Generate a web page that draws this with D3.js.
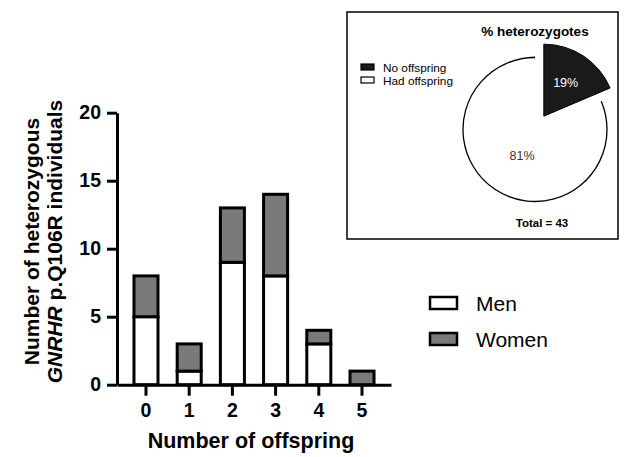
<!DOCTYPE html>
<html>
<head>
<meta charset="utf-8">
<script src="https://cdn.jsdelivr.net/npm/d3@7/dist/d3.min.js"></script>
<style>
  html, body { margin: 0; padding: 0; background: #fff; }
  svg { display: block; font-family: "Liberation Sans", Arial, sans-serif; }
</style>
</head>
<body>
<svg id="chart" width="624" height="457"></svg>
<script>
// Offspring counts of heterozygous carriers, split by sex
const offspringCats = ["0", "1", "2", "3", "4", "5"];
const menCounts = [5, 1, 9, 8, 3, 0];
const womenCounts = [3, 2, 4, 6, 1, 1];
const yTicks = [0, 5, 10, 15, 20];

// Inset pie: share of carriers with / without offspring
const pieLabels = ["No offspring", "Had offspring"];
const pieCounts = [8, 35];
const piePctLabels = ["19%", "81%"];
const pieTotal = 43;

const svg = d3.select("#chart");
const FONT = "Liberation Sans, Arial, sans-serif";

// ---------- stacked bar chart ----------
const x = d3.scaleBand().domain(offspringCats).range([117, 391])
  .paddingInner(0.444).paddingOuter(0.393);
const y = d3.scaleLinear().domain([0, 20]).range([384.7, 112.7]);

const rows = offspringCats.map((c, i) => ({ cat: c, Men: menCounts[i], Women: womenCounts[i] }));
const stack = d3.stack().keys(["Men", "Women"])(rows);
const fills = { Men: "#ffffff", Women: "#7a7a7a" };

const bars = svg.append("g");
stack.forEach(layer => {
  bars.selectAll(null).data(layer.filter(d => d[1] > d[0])).enter().append("rect")
    .attr("x", d => x(d.data.cat))
    .attr("width", x.bandwidth())
    .attr("y", d => y(d[1]))
    .attr("height", d => y(d[0]) - y(d[1]))
    .attr("fill", fills[layer.key])
    .attr("stroke", "#000")
    .attr("stroke-width", 3);
});

// y axis
const yAxis = svg.append("g").attr("transform", "translate(117,0)")
  .call(d3.axisLeft(y).tickValues(yTicks).tickSize(10).tickPadding(6).tickSizeOuter(0));
yAxis.select(".domain").attr("stroke-width", 3);
yAxis.selectAll(".tick line").attr("stroke-width", 3);
yAxis.selectAll(".tick text").attr("font-size", 19.5).attr("font-weight", "bold")
  .attr("fill", "#000").attr("font-family", FONT);

// x axis
const xAxis = svg.append("g").attr("transform", "translate(0,384.7)")
  .call(d3.axisBottom(x).tickSize(11).tickPadding(7).tickSizeOuter(0));
xAxis.select(".domain").attr("stroke-width", 3);
xAxis.selectAll(".tick line").attr("stroke-width", 3);
xAxis.selectAll(".tick text").attr("font-size", 19.5).attr("font-weight", "bold")
  .attr("fill", "#000").attr("font-family", FONT);

// axis titles
svg.append("text").attr("x", 251).attr("y", 448).attr("text-anchor", "middle")
  .attr("font-size", 21.5).attr("font-weight", "bold").text("Number of offspring");

const yTitle = svg.append("text")
  .attr("transform", "translate(0,241.5) rotate(-90)")
  .attr("text-anchor", "middle").attr("font-size", 21).attr("font-weight", "bold");
yTitle.append("tspan").attr("x", 0).attr("y", 39).text("Number of heterozygous");
const l2 = yTitle.append("tspan").attr("x", 0).attr("y", 62);
l2.append("tspan").attr("font-style", "italic").text("GNRHR");
l2.append("tspan").text(" p.Q106R individuals");

// sex legend
const sexKeys = ["Men", "Women"];
const leg = svg.append("g");
sexKeys.forEach((k, i) => {
  const yy = 297 + i * 36;
  leg.append("rect").attr("x", 430).attr("y", yy).attr("width", 27).attr("height", 12)
    .attr("fill", fills[k]).attr("stroke", "#000").attr("stroke-width", 2.5);
  leg.append("text").attr("x", 476).attr("y", yy + 14).attr("font-size", 21).text(k);
});

// ---------- inset pie ----------
svg.append("rect").attr("x", 347).attr("y", 12).attr("width", 271).attr("height", 227)
  .attr("fill", "#fff").attr("stroke", "#000").attr("stroke-width", 1.5);

svg.append("text").attr("x", 535).attr("y", 36).attr("text-anchor", "middle")
  .attr("font-size", 13.5).attr("font-weight", "bold").text("% heterozygotes");

const cx = 535, cy = 129.5, r = 72, explode = 16;
const pie = d3.pie().sort(null)(pieCounts);
const arc = d3.arc().innerRadius(0).outerRadius(r);
const rim = d3.arc().innerRadius(r).outerRadius(r);
const pieG = svg.append("g").attr("transform", `translate(${cx},${cy})`);

// white slice: fill plus outer rim only
pieG.append("path").attr("d", arc(pie[1])).attr("fill", "#fff");
pieG.append("path").attr("d", rim(pie[1])).attr("fill", "none")
  .attr("stroke", "#000").attr("stroke-width", 1.3);

// black slice, pulled out along its mid-angle
const mid = (pie[0].startAngle + pie[0].endAngle) / 2;
const dx = Math.sin(mid) * explode, dy = -Math.cos(mid) * explode;
pieG.append("path").attr("d", arc(pie[0]))
  .attr("transform", `translate(${dx},${dy})`)
  .attr("fill", "#1a1a1a").attr("stroke", "#000").attr("stroke-width", 1);

const lab = d3.arc().innerRadius(r * 0.55).outerRadius(r * 0.55);
const c0 = lab.centroid(pie[0]);
pieG.append("text").attr("x", c0[0] + dx).attr("y", c0[1] + dy + 4).attr("text-anchor", "middle")
  .attr("font-size", 12.5).attr("fill", "#fff").text(piePctLabels[0]);
pieG.append("text").attr("x", -13).attr("y", 30).attr("text-anchor", "middle")
  .attr("font-size", 12.5).attr("fill", "#333").text(piePctLabels[1]);

// pie legend
const pieFills = ["#1a1a1a", "#fff"];
pieLabels.forEach((t, i) => {
  const yy = 64 + i * 13;
  svg.append("rect").attr("x", 361).attr("y", yy).attr("width", 13).attr("height", 6)
    .attr("fill", pieFills[i]).attr("stroke", "#000").attr("stroke-width", 1.2);
  svg.append("text").attr("x", 383).attr("y", yy + 7.5).attr("font-size", 11.8).text(t);
});

svg.append("text").attr("x", 542).attr("y", 227).attr("text-anchor", "middle")
  .attr("font-size", 11.5).attr("font-weight", "bold").text(`Total = ${pieTotal}`);
</script>
</body>
</html>
